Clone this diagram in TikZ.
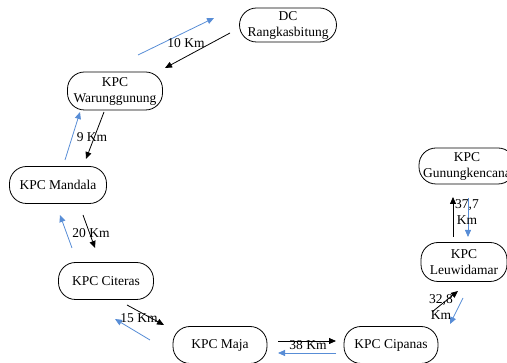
\documentclass[tikz,border=0pt]{standalone}
\usepackage{fontspec}
\setmainfont{Liberation Serif}
\usetikzlibrary{arrows.meta}
\definecolor{arrblue}{RGB}{88,141,214}
\tikzset{
  kpc/.style={draw, line width=0.8pt, rounded corners=17pt, align=center, inner sep=0pt,
    font=\fontsize{13.5}{16}\selectfont},
  lbl/.style={inner sep=0pt, align=center, font=\fontsize{13.5}{16}\selectfont},
  blk/.style={line width=0.8pt, -{Triangle[length=7pt,width=6pt]}},
  blu/.style={line width=0.8pt, arrblue, -{Triangle[length=7pt,width=6pt]}}
}
\begin{document}
\begin{tikzpicture}[x=1pt,y=-1pt]
\useasboundingbox (0,0) rectangle (507,363);
% nodes
\node[kpc, minimum width=97pt, minimum height=34pt] (dc) at (288,25) {DC\\Rangkasbitung};
\node[kpc, minimum width=95pt, minimum height=38pt] (war) at (115,91) {KPC\\Warunggunung};
\node[kpc, minimum width=97pt, minimum height=37pt] (man) at (58,185) {KPC Mandala};
\node[kpc, minimum width=95pt, minimum height=37pt] (cit) at (106,281) {KPC Citeras};
\node[kpc, minimum width=94pt, minimum height=37pt] (maj) at (220,345) {KPC Maja};
\node[kpc, minimum width=94pt, minimum height=37pt] (cip) at (391,345) {KPC Cipanas};
\node[kpc, minimum width=86pt, minimum height=39pt] (leu) at (464,262) {KPC\\Leuwidamar};
\node[kpc, minimum width=96pt, minimum height=36pt] (gun) at (467,166) {KPC\\Gunungkencana};
% arrow end coordinates
\coordinate (b1s) at (138,55); \coordinate (b1e) at (214,18);
\coordinate (k1s) at (230,33); \coordinate (k1e) at (165,68);
\coordinate (b2s) at (65,160); \coordinate (b2e) at (80,112);
\coordinate (k2s) at (104,112); \coordinate (k2e) at (86,159);
\coordinate (b3s) at (72,248); \coordinate (b3e) at (60,215);
\coordinate (k3s) at (83,215); \coordinate (k3e) at (95,248);
\coordinate (k4s) at (127,305); \coordinate (k4e) at (164,325);
\coordinate (b4s) at (150,340); \coordinate (b4e) at (115,319);
\coordinate (k5s) at (278,341); \coordinate (k5e) at (336,341);
\coordinate (b5s) at (336,353); \coordinate (b5e) at (278,353);
\coordinate (k6s) at (432,312); \coordinate (k6e) at (458,291);
\coordinate (b6s) at (463,298); \coordinate (b6e) at (450,324);
\coordinate (k7s) at (453,237); \coordinate (k7e) at (453,197);
\coordinate (b7s) at (468,198); \coordinate (b7e) at (468,237);
% connectors
\draw[blu] (b1s) -- (b1e);
\draw[blk] (k1s) -- (k1e);
\draw[blu] (b2s) -- (b2e);
\draw[blk] (k2s) -- (k2e);
\draw[blu] (b3s) -- (b3e);
\draw[blk] (k3s) -- (k3e);
\draw[blk] (k4s) -- (k4e);
\draw[blu] (b4s) -- (b4e);
\draw[blk] (k5s) -- (k5e);
\draw[blu] (b5s) -- (b5e);
\draw[blk] (k6s) -- (k6e);
\draw[blu] (b6s) -- (b6e);
\draw[blk] (k7s) -- (k7e);
\draw[blu] (b7s) -- (b7e);
% labels
\node[lbl] (l1) at (186,43) {10 Km};
\node[lbl] (l2) at (92,137) {9 Km};
\node[lbl] (l3) at (91,233) {20 Km};
\node[lbl] (l4) at (139,318) {15 Km};
\node[lbl] (l5) at (308,345) {38 Km};
\node[lbl] (l6) at (441,307) {32,8\\Km};
\node[lbl] (l7) at (467,212) {37,7\\Km};
\end{tikzpicture}
\end{document}
